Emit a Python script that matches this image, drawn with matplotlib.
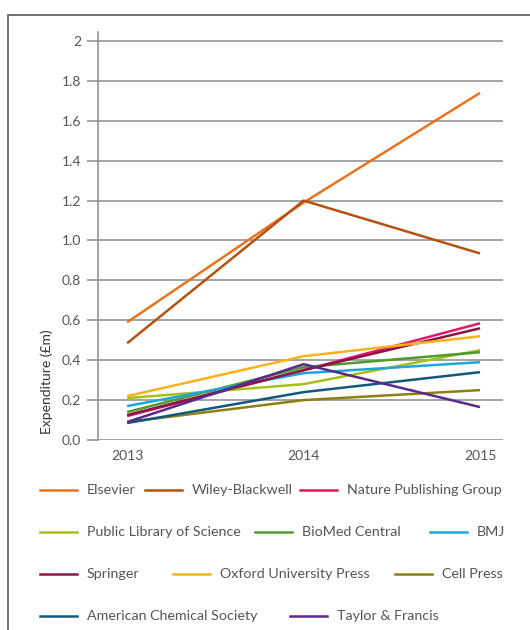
import matplotlib.pyplot as plt
from matplotlib.lines import Line2D
from matplotlib.patches import Rectangle

years = [2013, 2014, 2015]
publishers = ["Elsevier", "Wiley-Blackwell", "Nature Publishing Group",
              "Public Library of Science", "BioMed Central", "BMJ",
              "Springer", "Oxford University Press", "Cell Press",
              "American Chemical Society", "Taylor & Francis"]
elsevier = [0.59, 1.19, 1.74]
wiley = [0.485, 1.20, 0.935]
nature = [0.12, 0.35, 0.585]
plos = [0.21, 0.28, 0.45]
biomed = [0.14, 0.365, 0.44]
bmj = [0.17, 0.335, 0.39]
springer = [0.125, 0.35, 0.56]
oup = [0.22, 0.42, 0.52]
cell = [0.09, 0.20, 0.25]
acs = [0.085, 0.24, 0.34]
tandf = [0.09, 0.38, 0.165]
series = [elsevier, wiley, nature, plos, biomed, bmj, springer, oup, cell, acs, tandf]
colors = ["#E8731F", "#B5520F", "#E0186C", "#A8BF1A", "#4E9A2E", "#1EA5DC",
          "#8E1446", "#F9B31A", "#8F7F10", "#12587C", "#5A2A8A"]
yticks = [0, 0.2, 0.4, 0.6, 0.8, 1.0, 1.2, 1.4, 1.6, 1.8, 2.0]
ytick_labels = ["0.0", "0.2", "0.4", "0.6", "0.8", "1.0", "1.2", "1.4", "1.6", "1.8", "2"]

plt.rcParams['font.family'] = ['Lato', 'DejaVu Sans']
txt = "#555555"
grid = "#8a8a8a"

W, H = 530, 630
fig = plt.figure(figsize=(W / 100, H / 100), dpi=100)

# outer frame
fig.patches.append(Rectangle((8 / W, -0.05), 1.2, 1 - 15 / H + 0.05, transform=fig.transFigure,
                             fill=False, edgecolor="#666666", linewidth=1.3))

ax = fig.add_axes([98 / W, 1 - 440 / H, (503 - 98) / W, (440 - 32) / H])
for vals, c in zip(series, colors):
    ax.plot(years, vals, color=c, linewidth=1.8, solid_capstyle='butt')

ax.set_xlim(2013 - 0.165, 2015 + 0.13)
ax.set_ylim(0, 2.045)
ax.set_yticks(yticks)
ax.set_yticklabels(ytick_labels)
ax.set_xticks(years)
ax.set_xticklabels([str(y) for y in years])
for y in yticks:
    ax.axhline(y, color=grid, linewidth=1.1, zorder=0)
for s in ["top", "right", "bottom"]:
    ax.spines[s].set_visible(False)
ax.spines["left"].set_color(grid)
ax.spines["left"].set_linewidth(1.1)
ax.tick_params(axis='y', length=8, width=1.1, color=grid, labelcolor=txt, labelsize=10, pad=4)
ax.tick_params(axis='x', length=0, labelcolor=txt, labelsize=10, pad=7)

fig.text(47 / W, 1 - 382 / H, "Expenditure (£m)", rotation=90, ha='center', va='center',
         color="#333333", fontsize=10)

# legend rows laid out like the original
rows = [[0, 1, 2], [3, 4, 5], [6, 7, 8], [9, 10]]
row_y = [490, 532, 574, 616]
row_x = [[40, 145, 300], [40, 255, 430], [40, 173, 395], [40, 290]]
for r, idxs in enumerate(rows):
    yy = 1 - row_y[r] / H
    for k, i in enumerate(idxs):
        x0 = row_x[r][k]
        fig.add_artist(Line2D([x0 / W, (x0 + 37) / W], [yy, yy], transform=fig.transFigure,
                              color=colors[i], linewidth=1.8))
        fig.text((x0 + 47) / W, yy, publishers[i], ha='left', va='center',
                 color=txt, fontsize=10.3)

fig.savefig("out.png", dpi=100)
